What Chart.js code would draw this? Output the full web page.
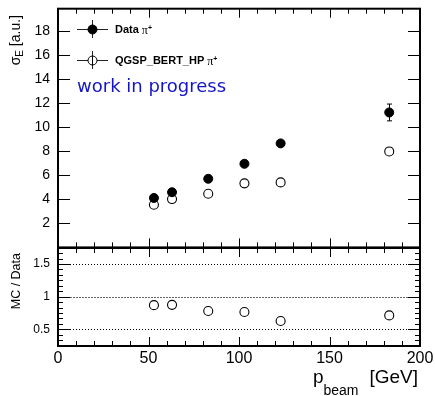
<!DOCTYPE html>
<html>
<head>
<meta charset="utf-8">
<script src="https://cdn.jsdelivr.net/npm/chart.js@4.4.1/dist/chart.umd.min.js"></script>
<style>
  html, body { margin: 0; padding: 0; background: #fff; }
  #wrap { position: relative; width: 435px; height: 396px; }
  canvas { position: absolute; left: 0; }
  #cTop { top: 0; }
  #cBot { top: 240px; }
</style>
</head>
<body>
<div id="wrap">
  <canvas id="cTop" width="435" height="253"></canvas>
  <canvas id="cBot" width="435" height="156"></canvas>
</div>
<script>
// values
const beamMomentum = [53, 63, 83, 103, 123, 183];
const sigmaData = [4.12, 4.60, 5.72, 6.97, 8.67, 11.25];
const sigmaDataErr = [0.08, 0.08, 0.10, 0.12, 0.15, 0.70];
const sigmaMC = [3.56, 4.03, 4.47, 5.34, 5.42, 8.00];
const ratioMC = [0.870, 0.875, 0.780, 0.766, 0.627, 0.713];
const xTicks = [0, 50, 100, 150, 200];
const sigmaTicks = [2, 4, 6, 8, 10, 12, 14, 16, 18];
const ratioTicks = [0.5, 1, 1.5];
const ratioLines = [0.5, 1, 1.5];

const fonte = '"Liberation Sans", Arial, Helvetica, sans-serif';

function pontos(xs, ys) {
    return xs.map((x, i) => ({ x: x, y: ys[i] }));
}

function linha(ctx, x1, y1, x2, y2) {
    ctx.beginPath();
    ctx.moveTo(x1, y1);
    ctx.lineTo(x2, y2);
    ctx.stroke();
}

// ROOT style frame with inward ticks
const moldura = {
    id: 'moldura',
    afterDraw(chart, args, opts) {
        const { ctx, chartArea: a, scales } = chart;
        ctx.save();
        ctx.strokeStyle = '#000';
        ctx.lineWidth = 1;
        for (let v = 0; v <= 200; v += 10) {
            const px = Math.round(scales.x.getPixelForValue(v)) + 0.5;
            const len = v % 50 === 0 ? 9 : 5;
            linha(ctx, px, a.bottom, px, a.bottom - len);
            linha(ctx, px, a.top, px, a.top + len);
        }
        opts.yMajor.forEach(v => {
            const py = Math.round(scales.y.getPixelForValue(v)) + 0.5;
            linha(ctx, a.left, py, a.left + 12, py);
            linha(ctx, a.right, py, a.right - 12, py);
        });
        (opts.yMinor || []).forEach(v => {
            const py = Math.round(scales.y.getPixelForValue(v)) + 0.5;
            linha(ctx, a.left, py, a.left + 5, py);
            linha(ctx, a.right, py, a.right - 5, py);
        });
        ctx.lineWidth = 2;
        ctx.strokeRect(a.left, a.top, a.right - a.left, a.bottom - a.top);
        ctx.restore();
    }
};

const barrasErro = {
    id: 'barrasErro',
    beforeDatasetsDraw(chart) {
        const { ctx, scales: { x, y } } = chart;
        chart.data.datasets.forEach(ds => {
            if (!ds.errors) return;
            ctx.save();
            ctx.strokeStyle = '#000';
            ctx.lineWidth = 1;
            ds.data.forEach((p, i) => {
                const px = Math.round(x.getPixelForValue(p.x)) + 0.5;
                const y1 = y.getPixelForValue(p.y - ds.errors[i]);
                const y2 = y.getPixelForValue(p.y + ds.errors[i]);
                linha(ctx, px, y1, px, y2);
                linha(ctx, px - 2.5, y1, px + 2.5, y1);
                linha(ctx, px - 2.5, y2, px + 2.5, y2);
            });
            ctx.restore();
        });
    }
};

const linhasRazao = {
    id: 'linhasRazao',
    beforeDatasetsDraw(chart) {
        const { ctx, chartArea: a, scales: { y } } = chart;
        ctx.save();
        ctx.lineWidth = 1;
        ratioLines.forEach(v => {
            const py = Math.round(y.getPixelForValue(v)) + 0.5;
            if (v === 1) {
                ctx.strokeStyle = '#666';
                ctx.setLineDash([2, 1]);
            } else {
                ctx.strokeStyle = '#000';
                ctx.setLineDash([1, 2]);
            }
            linha(ctx, a.left, py, a.right, py);
        });
        ctx.restore();
    }
};

function textoPi(ctx, x, y) {
    ctx.font = '12px "Liberation Serif", "Times New Roman", serif';
    ctx.fillText('π', x, y);
    const w = ctx.measureText('π').width;
    ctx.font = 'bold 7px ' + fonte;
    ctx.fillText('+', x + w, y - 4);
}

function entradaLegenda(ctx, y, cheio, texto) {
    ctx.strokeStyle = '#222';
    ctx.lineWidth = 1;
    linha(ctx, 77, y + 0.5, 108, y + 0.5);
    linha(ctx, 92.5, y - 9, 92.5, y + 9);
    ctx.beginPath();
    ctx.arc(92.5, y + 0.5, 4.5, 0, Math.PI * 2);
    ctx.fillStyle = cheio ? '#000' : '#fff';
    ctx.fill();
    ctx.strokeStyle = '#000';
    ctx.stroke();
    if (!cheio) linha(ctx, 92.5, y - 4, 92.5, y + 5);
    ctx.fillStyle = '#000';
    ctx.font = 'bold 11px ' + fonte;
    ctx.textBaseline = 'middle';
    ctx.fillText(texto, 115, y + 1);
    const w = ctx.measureText(texto).width;
    ctx.textBaseline = 'alphabetic';
    textoPi(ctx, 115 + w + 3, y + 5);
}

const decoracaoTopo = {
    id: 'decoracaoTopo',
    afterDraw(chart) {
        const ctx = chart.ctx;
        ctx.save();
        entradaLegenda(ctx, 29, true, 'Data');
        entradaLegenda(ctx, 60, false, 'QGSP_BERT_HP');

        ctx.fillStyle = '#1515c8';
        ctx.font = '18px "DejaVu Sans", sans-serif';
        ctx.textBaseline = 'alphabetic';
        ctx.fillText('work in progress', 77, 92);

        // y title, end aligned at the top
        ctx.fillStyle = '#000';
        ctx.translate(20, 15);
        ctx.rotate(-Math.PI / 2);
        ctx.font = '14px ' + fonte;
        const wUnid = ctx.measureText(' [a.u.]').width;
        const wSig = ctx.measureText('σ').width;
        ctx.font = '10px ' + fonte;
        const wE = ctx.measureText('E').width;
        let x0 = -(wUnid + wSig + wE);
        ctx.font = '14px ' + fonte;
        ctx.fillText('σ', x0, 0);
        ctx.font = '10px ' + fonte;
        ctx.fillText('E', x0 + wSig, 3);
        ctx.font = '14px ' + fonte;
        ctx.fillText(' [a.u.]', x0 + wSig + wE, 0);
        ctx.restore();
    }
};

const decoracaoBase = {
    id: 'decoracaoBase',
    afterDraw(chart) {
        const ctx = chart.ctx;
        ctx.save();
        ctx.fillStyle = '#000';
        ctx.textBaseline = 'alphabetic';
        ctx.font = '19px ' + fonte;
        ctx.fillText('p', 313, 143);
        ctx.textAlign = 'right';
        ctx.fillText('[GeV]', 418, 143);
        ctx.textAlign = 'left';
        ctx.font = '14px ' + fonte;
        ctx.fillText('beam', 323.5, 155);

        ctx.translate(20, 13);
        ctx.rotate(-Math.PI / 2);
        ctx.font = '12.5px ' + fonte;
        ctx.textAlign = 'right';
        ctx.fillText('MC / Data', 0, 0);
        ctx.restore();
    }
};

const graficoTopo = new Chart(document.getElementById('cTop'), {
    type: 'scatter',
    data: {
        datasets: [{
            label: 'Data π+',
            data: pontos(beamMomentum, sigmaData),
            errors: sigmaDataErr,
            pointRadius: 4.5,
            pointBackgroundColor: '#000',
            pointBorderColor: '#000',
            pointBorderWidth: 1
        }, {
            label: 'QGSP_BERT_HP π+',
            data: pontos(beamMomentum, sigmaMC),
            pointRadius: 4.5,
            pointBackgroundColor: '#fff',
            pointBorderColor: '#000',
            pointBorderWidth: 1.1
        }]
    },
    options: {
        responsive: false,
        animation: false,
        devicePixelRatio: 1,
        layout: { padding: { top: 8.7, right: 15, bottom: 2, left: 0 } },
        plugins: {
            legend: { display: false },
            tooltip: { enabled: false },
            moldura: { yMajor: sigmaTicks }
        },
        scales: {
            x: { type: 'linear', min: 0, max: 200, display: false },
            y: {
                min: 0,
                max: 19.9,
                grid: { display: false, drawTicks: false },
                border: { display: false },
                afterBuildTicks: s => { s.ticks = sigmaTicks.map(v => ({ value: v })); },
                afterFit: s => { s.width = 58; s.paddingTop = 0; s.paddingBottom = 0; },
                ticks: { font: { family: fonte, size: 14 }, color: '#000', padding: 8, autoSkip: false }
            }
        }
    },
    plugins: [barrasErro, moldura, decoracaoTopo]
});

const minorRazao = [];
for (let k = 3; k <= 20; k++) {
    if (k % 6 !== 0) minorRazao.push(k / 12);
}

const graficoBase = new Chart(document.getElementById('cBot'), {
    type: 'scatter',
    data: {
        datasets: [{
            label: 'MC / Data',
            data: pontos(beamMomentum, ratioMC),
            pointRadius: 4.5,
            pointBackgroundColor: '#fff',
            pointBorderColor: '#000',
            pointBorderWidth: 1.1
        }]
    },
    options: {
        responsive: false,
        animation: false,
        devicePixelRatio: 1,
        layout: { padding: { top: 8, right: 15, bottom: 0, left: 0 } },
        plugins: {
            legend: { display: false },
            tooltip: { enabled: false },
            moldura: { yMajor: ratioTicks, yMinor: minorRazao }
        },
        scales: {
            x: {
                type: 'linear',
                min: 0,
                max: 200,
                grid: { display: false, drawTicks: false },
                border: { display: false },
                afterBuildTicks: s => { s.ticks = xTicks.map(v => ({ value: v })); },
                afterFit: s => { s.height = 50; s.paddingLeft = 0; s.paddingRight = 0; },
                ticks: { font: { family: fonte, size: 16 }, color: '#000', padding: 3, autoSkip: false, maxRotation: 0 }
            },
            y: {
                min: 0.245,
                max: 1.745,
                grid: { display: false, drawTicks: false },
                border: { display: false },
                afterBuildTicks: s => { s.ticks = ratioTicks.map(v => ({ value: v })); },
                afterFit: s => { s.width = 58; s.paddingTop = 0; s.paddingBottom = 0; },
                ticks: { font: { family: fonte, size: 12 }, color: '#000', padding: 8, autoSkip: false, callback: v => String(v) }
            }
        }
    },
    plugins: [linhasRazao, moldura, decoracaoBase]
});
</script>
</body>
</html>
